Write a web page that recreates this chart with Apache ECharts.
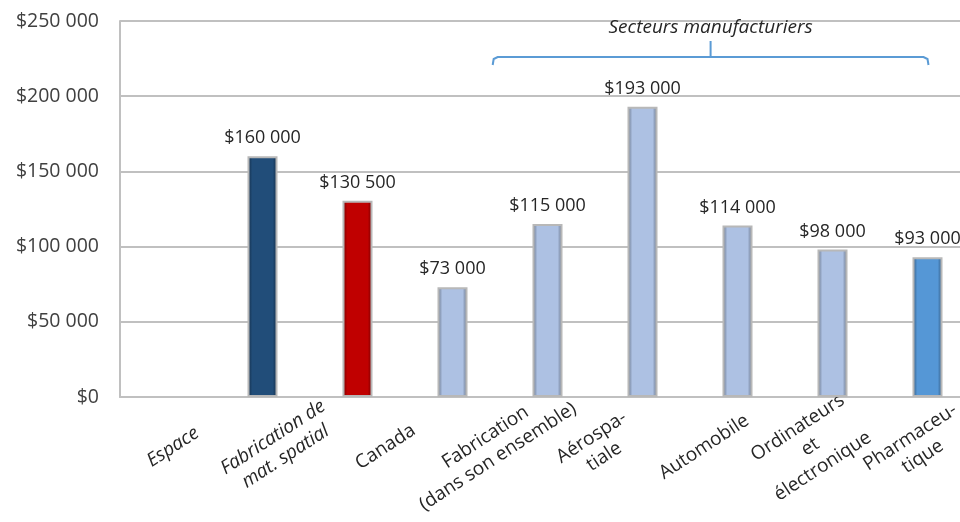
<!DOCTYPE html>
<html>
<head>
<meta charset="utf-8">
<script src="https://cdn.jsdelivr.net/npm/echarts@6/dist/echarts.min.js"></script>
<style>
html, body { margin: 0; padding: 0; background: #fff; overflow: hidden; }
#chart { width: 976px; height: 522px; }
</style>
</head>
<body>
<div id="chart"></div>
<script>
// données du graphique
var categories = ['Espace', 'Fabrication de\nmat. spatial', 'Canada', 'Fabrication\n(dans son ensemble)', 'Aérospa-\ntiale', 'Automobile', 'Ordinateurs\net\nélectronique', 'Pharmaceu-\ntique'];
var values = [160000, 130500, 73000, 115000, 193000, 114000, 98000, 93000];
var barColors = ['#214d79', '#c00000', '#adc1e3', '#adc1e3', '#adc1e3', '#adc1e3', '#adc1e3', '#5597d6'];
var italicLabels = ['Espace', 'Fabrication de\nmat. spatial'];
var yTicks = [0, 50000, 100000, 150000, 200000, 250000];
var groupLabel = 'Secteurs manufacturiers';
var groupFrom = 3, groupTo = 7;

var FONT = 'Open Sans';
var myChart;

function money(v) {
	return '$' + String(v).replace(/\B(?=(\d{3})+(?!\d))/g, ' ');
}
// assombrir une couleur hex
function shade(hex, f) {
	var n = parseInt(hex.slice(1), 16);
	var r = Math.round(((n >> 16) & 255) * f), g = Math.round(((n >> 8) & 255) * f), b = Math.round((n & 255) * f);
	return 'rgb(' + r + ',' + g + ',' + b + ')';
}
// effet biseauté des barres
function bevel(c) {
	return {
		type: 'linear', x: 0, y: 0, x2: 1, y2: 0,
		colorStops: [
			{ offset: 0, color: shade(c, 0.55) },
			{ offset: 0.16, color: c },
			{ offset: 0.84, color: c },
			{ offset: 1, color: shade(c, 0.55) }
		]
	};
}

myChart = echarts.init(document.getElementById('chart'));
var option = {
	animation: false,
	textStyle: { fontFamily: FONT },
	grid: [
		{ left: 120, top: 21, right: 0, bottom: 125 },
		{ left: 215, top: 21, right: 1, bottom: 125 }
	],
	xAxis: [{
		gridIndex: 0,
		type: 'category',
		data: categories,
		axisLine: { lineStyle: { color: '#c0c0c0', width: 2 } },
		axisTick: { show: false },
		axisLabel: {
			interval: 0,
			rotate: 33,
			align: 'center',
			verticalAlign: 'middle',
			margin: 50,
			fontFamily: FONT,
			fontSize: 19,
			color: '#262626',
			lineHeight: 23,
			formatter: function(v) {
				if (italicLabels.indexOf(v) >= 0) {
					return v.split('\n').map(function(l) { return '{i|' + l + '}'; }).join('\n');
				}
				return v;
			},
			rich: {
				i: { fontStyle: 'italic', fontFamily: FONT, fontSize: 19, color: '#262626', lineHeight: 23 }
			}
		}
	}, {
		gridIndex: 1,
		type: 'category',
		data: categories,
		show: false
	}],
	yAxis: [{
		gridIndex: 0,
		type: 'value',
		min: yTicks[0],
		max: yTicks[yTicks.length - 1],
		interval: yTicks[1] - yTicks[0],
		axisLine: { show: true, lineStyle: { color: '#c0c0c0', width: 2 } },
		axisTick: { show: false },
		splitLine: { show: true, lineStyle: { color: '#c0c0c0', width: 2 } },
		axisLabel: {
			margin: 21,
			fontFamily: FONT,
			fontSize: 19.5,
			color: '#404040',
			formatter: money
		}
	}, {
		gridIndex: 1,
		type: 'value',
		min: yTicks[0],
		max: yTicks[yTicks.length - 1],
		show: false,
		splitLine: { show: false }
	}],
	series: [{
		type: 'bar',
		xAxisIndex: 1,
		yAxisIndex: 1,
		barWidth: 30,
		data: values.map(function(v, i) {
			return { value: v, itemStyle: { color: bevel(barColors[i]) } };
		}),
		itemStyle: { borderColor: '#b8b8b8', borderWidth: 2 },
		label: {
			show: true,
			position: 'top',
			distance: 9,
			fontFamily: FONT,
			fontSize: 18,
			color: '#262626',
			formatter: function(p) { return money(p.value); }
		}
	}]
};
myChart.setOption(option);

// accolade « Secteurs manufacturiers »
var x0 = myChart.convertToPixel({ xAxisIndex: 0 }, categories[groupFrom]) + 1;
var x1 = myChart.convertToPixel({ xAxisIndex: 1 }, categories[groupTo]) + 1;
var xm = (x0 + x1) / 2;
var brace = { stroke: '#5b9bd5', lineWidth: 2, fill: null };
myChart.setOption({
	graphic: [{
		type: 'polyline',
		shape: { points: [[x0, 65], [x0 + 1, 59], [x0 + 5, 57], [x1 - 5, 57], [x1 - 1, 59], [x1, 65]] },
		style: brace
	}, {
		type: 'line',
		shape: { x1: xm, y1: 57, x2: xm, y2: 41 },
		style: brace
	}, {
		type: 'text',
		x: xm,
		y: 28,
		style: { text: groupLabel, font: 'italic 19px "' + FONT + '"', fill: '#262626', align: 'center', verticalAlign: 'middle' }
	}]
});
window.onresize = myChart.resize;
</script>
</body>
</html>
